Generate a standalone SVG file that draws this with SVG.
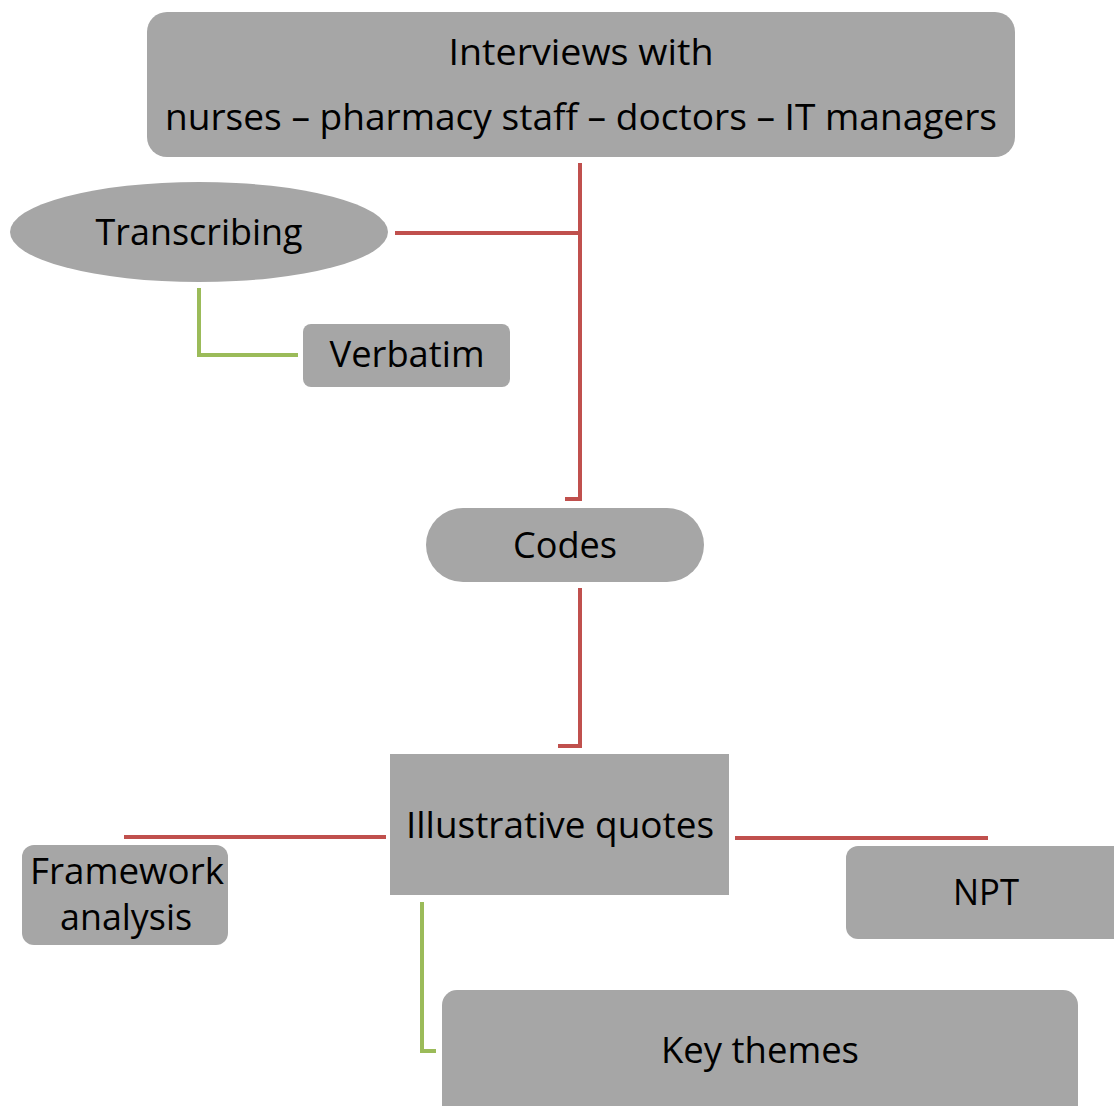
<svg xmlns="http://www.w3.org/2000/svg" width="1114" height="1106" viewBox="0 0 1114 1106">
<style>
.n{fill:#a6a6a6;}
.t{font-family:"Open Sans","Noto Sans","Liberation Sans",sans-serif;font-size:36px;fill:#000;text-anchor:middle;}
.r{fill:none;stroke:#c0504d;stroke-width:4;}
.g{fill:none;stroke:#9bbb59;stroke-width:4;}
</style>
<rect width="1114" height="1106" fill="#fff"/>
<g id="connectors">
<path class="r" d="M580 163 V499 H565"/>
<path class="r" d="M395 233 H580"/>
<path class="r" d="M580 588 V746 H558"/>
<path class="r" d="M386 837 H124"/>
<path class="r" d="M735 838 H988"/>
<path class="g" d="M199 288 V355 H298"/>
<path class="g" d="M422 902 V1051 H436"/>
</g>
<g id="interviews">
<rect class="n" x="147" y="12" width="868" height="145" rx="20"/>
<text class="t" x="581" y="65" textLength="265" lengthAdjust="spacingAndGlyphs">Interviews with</text>
<text class="t" x="581" y="130" textLength="832" lengthAdjust="spacingAndGlyphs">nurses – pharmacy staff – doctors – IT managers</text>
</g>
<g id="transcribing">
<ellipse class="n" cx="199" cy="232" rx="189" ry="50"/>
<text class="t" x="199" y="245" textLength="207" lengthAdjust="spacingAndGlyphs">Transcribing</text>
</g>
<g id="verbatim">
<rect class="n" x="303" y="324" width="207" height="63" rx="8"/>
<text class="t" x="407" y="367" textLength="155" lengthAdjust="spacingAndGlyphs">Verbatim</text>
</g>
<g id="codes">
<rect class="n" x="426" y="508" width="278" height="74" rx="37"/>
<text class="t" x="565" y="558" textLength="104" lengthAdjust="spacingAndGlyphs">Codes</text>
</g>
<g id="quotes">
<rect class="n" x="390" y="754" width="339" height="141"/>
<text class="t" x="560" y="838" textLength="308" lengthAdjust="spacingAndGlyphs">Illustrative quotes</text>
</g>
<g id="framework">
<rect class="n" x="22" y="845" width="206" height="100" rx="12"/>
<text class="t" x="127" y="884" textLength="194" lengthAdjust="spacingAndGlyphs">Framework</text>
<text class="t" x="126" y="930" textLength="132" lengthAdjust="spacingAndGlyphs">analysis</text>
</g>
<g id="npt">
<rect class="n" x="846" y="846" width="290" height="93" rx="12"/>
<text class="t" x="986" y="905" textLength="66" lengthAdjust="spacingAndGlyphs">NPT</text>
</g>
<g id="keythemes">
<rect class="n" x="442" y="990" width="636" height="140" rx="15"/>
<text class="t" x="760" y="1063" textLength="198" lengthAdjust="spacingAndGlyphs">Key themes</text>
</g>
</svg>
